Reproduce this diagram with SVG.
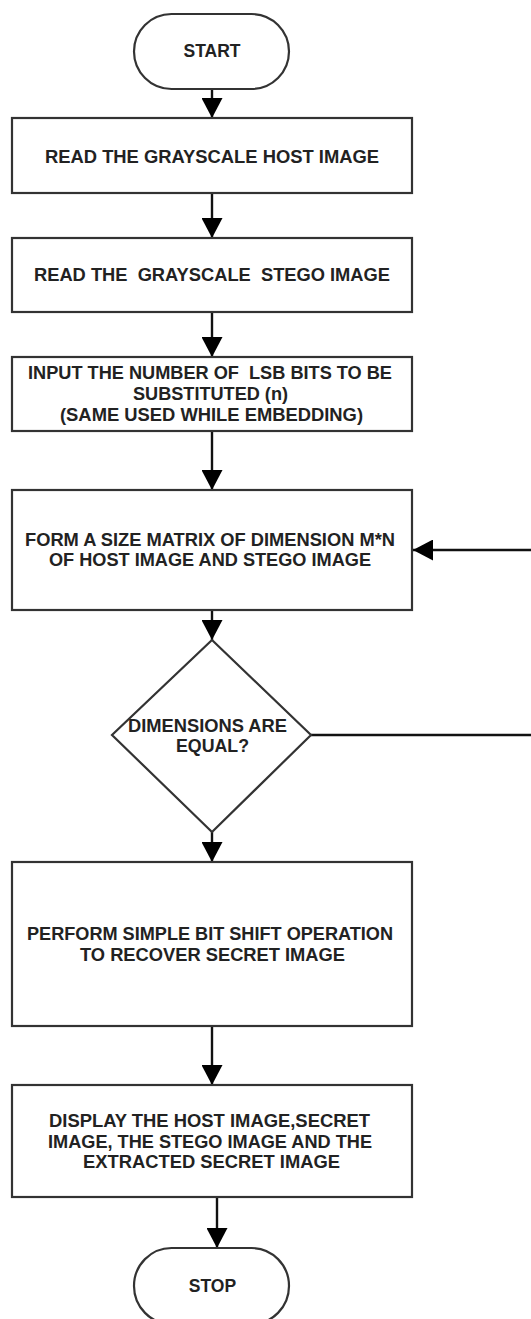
<svg xmlns="http://www.w3.org/2000/svg" width="531" height="1319" viewBox="0 0 531 1319">
<style>
.shape{fill:#fff;stroke:#333;stroke-width:2.2}
.conn{fill:none;stroke:#111;stroke-width:2.4}
text{font-family:"Liberation Sans",Arial,sans-serif;font-weight:bold;font-size:17.5px;fill:#222;text-anchor:middle}
</style>
<defs>
<marker id="arr" markerUnits="userSpaceOnUse" markerWidth="20" markerHeight="21" viewBox="0 0 20 21" refX="20" refY="10.5" orient="auto">
<path d="M0,0 L20,10.5 L0,21 Z" fill="#000"/>
</marker>
</defs>
<rect width="531" height="1319" fill="#fff"/>
<g id="connectors">
<line class="conn" x1="212" y1="89" x2="212" y2="118" marker-end="url(#arr)"/>
<line class="conn" x1="212" y1="193" x2="212" y2="238" marker-end="url(#arr)"/>
<line class="conn" x1="212" y1="312" x2="212" y2="357" marker-end="url(#arr)"/>
<line class="conn" x1="212" y1="431" x2="212" y2="490" marker-end="url(#arr)"/>
<line class="conn" x1="212" y1="610" x2="212" y2="640" marker-end="url(#arr)"/>
<line class="conn" x1="212" y1="832" x2="212" y2="862" marker-end="url(#arr)"/>
<line class="conn" x1="212" y1="1026" x2="212" y2="1085" marker-end="url(#arr)"/>
<line class="conn" x1="217" y1="1197" x2="217" y2="1248" marker-end="url(#arr)"/>
<path class="conn" d="M311,735 H545 V550 H413" marker-end="url(#arr)"/>
</g>
<g id="start">
<rect class="shape" x="134" y="14" width="155" height="75" rx="37.5" ry="37.5"/>
<text x="212" y="57">START</text>
</g>
<g id="read-host">
<rect class="shape" x="12" y="118" width="400" height="75"/>
<text x="212" y="162.5" textLength="334" lengthAdjust="spacingAndGlyphs">READ THE GRAYSCALE HOST IMAGE</text>
</g>
<g id="read-stego">
<rect class="shape" x="12" y="238" width="400" height="74"/>
<text x="212" y="280.5" xml:space="preserve" textLength="356" lengthAdjust="spacingAndGlyphs">READ THE  GRAYSCALE  STEGO IMAGE</text>
</g>
<g id="input-bits">
<rect class="shape" x="12" y="357" width="400" height="74"/>
<text x="210" y="379" xml:space="preserve" textLength="364" lengthAdjust="spacingAndGlyphs">INPUT THE NUMBER OF  LSB BITS TO BE</text>
<text x="210.5" y="400" textLength="155" lengthAdjust="spacingAndGlyphs">SUBSTITUTED (n)</text>
<text x="211.5" y="421" textLength="303" lengthAdjust="spacingAndGlyphs">(SAME USED WHILE EMBEDDING)</text>
</g>
<g id="form-matrix">
<rect class="shape" x="12" y="490" width="400" height="120"/>
<text x="210" y="545.5" textLength="370" lengthAdjust="spacingAndGlyphs">FORM A SIZE MATRIX OF DIMENSION M*N</text>
<text x="210" y="566" textLength="322" lengthAdjust="spacingAndGlyphs">OF HOST IMAGE AND STEGO IMAGE</text>
</g>
<g id="decision">
<polygon class="shape" points="212,640 311,735 212,832 112,735"/>
<text x="207.5" y="731.5" textLength="159" lengthAdjust="spacingAndGlyphs">DIMENSIONS ARE</text>
<text x="212.5" y="752" textLength="73" lengthAdjust="spacingAndGlyphs">EQUAL?</text>
</g>
<g id="bit-shift">
<rect class="shape" x="12" y="862" width="400" height="164"/>
<text x="210" y="940" textLength="366" lengthAdjust="spacingAndGlyphs">PERFORM SIMPLE BIT SHIFT OPERATION</text>
<text x="212.5" y="960.5" textLength="265" lengthAdjust="spacingAndGlyphs">TO RECOVER SECRET IMAGE</text>
</g>
<g id="display">
<rect class="shape" x="12" y="1085" width="400" height="112"/>
<text x="209.5" y="1126.5" textLength="321" lengthAdjust="spacingAndGlyphs">DISPLAY THE HOST IMAGE,SECRET</text>
<text x="210" y="1147.5" textLength="324" lengthAdjust="spacingAndGlyphs">IMAGE, THE STEGO IMAGE AND THE</text>
<text x="211.5" y="1168" textLength="257" lengthAdjust="spacingAndGlyphs">EXTRACTED SECRET IMAGE</text>
</g>
<g id="stop">
<rect class="shape" x="134" y="1248" width="155" height="76" rx="37.5" ry="38"/>
<text x="212.5" y="1291.5">STOP</text>
</g>
</svg>
